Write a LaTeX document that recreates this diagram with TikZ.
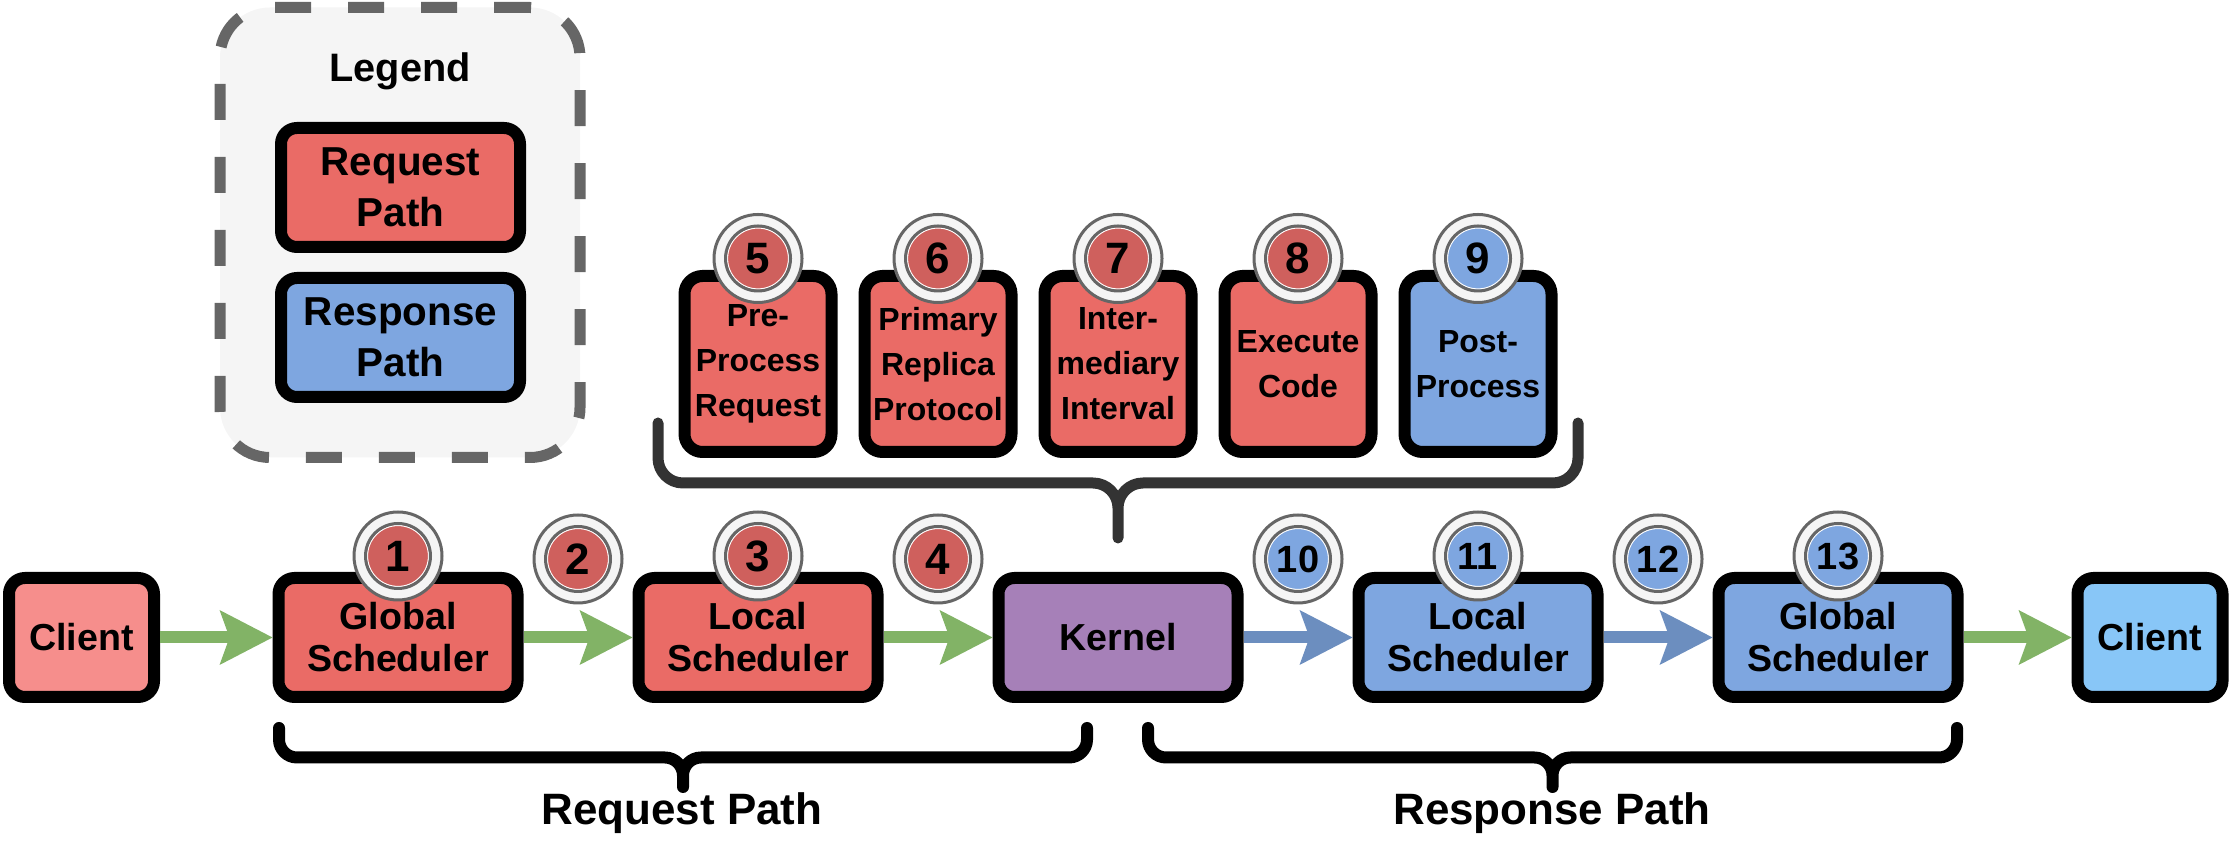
\documentclass[tikz,border=0pt]{standalone}
\usepackage{fontspec}
\setmainfont{Liberation Sans}
\usepackage{tikz}
\usetikzlibrary{arrows.meta}

\definecolor{reqred}{HTML}{EA6B66}
\definecolor{resblue}{HTML}{7EA6E0}
\definecolor{kernelpurple}{HTML}{A680B8}
\definecolor{clientred}{HTML}{F68E8C}
\definecolor{clientblue}{HTML}{88C6F7}
\definecolor{badgered}{HTML}{CF605D}
\definecolor{flowgreen}{HTML}{82B366}
\definecolor{flowblue}{HTML}{6C8EBF}
\definecolor{framefill}{HTML}{F5F5F5}
\definecolor{framegray}{HTML}{666666}
\definecolor{bracegray}{HTML}{333333}

\newcommand{\stagefont}{\bfseries\fontsize{10.7pt}{11.95pt}\selectfont}
\newcommand{\stepfont}{\bfseries\fontsize{9.1pt}{12.8pt}\selectfont}
\newcommand{\legfont}{\bfseries\fontsize{11.5pt}{14.5pt}\selectfont}
\newcommand{\legtitlefont}{\bfseries\fontsize{11.3pt}{13pt}\selectfont}
\newcommand{\numfont}{\bfseries\fontsize{12.5pt}{13pt}\selectfont}
\newcommand{\numsmallfont}{\bfseries\fontsize{10.8pt}{12pt}\selectfont}
\newcommand{\pathfont}{\bfseries\fontsize{12.5pt}{14pt}\selectfont}

\begin{document}
\begin{tikzpicture}[
    stage/.style={draw=black, line width=0.12cm, rounded corners=0.16cm, inner sep=0pt,
      minimum width=2.39cm, minimum height=1.19cm, align=center, font=\stagefont},
    stepbox/.style={stage, rounded corners=0.18cm, minimum width=1.47cm, minimum height=1.76cm, font=\stepfont},
    numring/.style={circle, fill=framefill, draw=framegray, line width=0.03cm, minimum size=0.88cm, inner sep=0pt},
    numdot/.style={circle, fill=#1, draw=framegray, line width=0.03cm, minimum size=0.65cm, inner sep=0pt,
      font=\numfont, path picture={\draw[white, line width=0.012cm]
        (path picture bounding box.center) circle [radius=0.305cm];}},
    flow/.style={line width=0.12cm, -{Stealth[length=0.53cm, width=0.55cm, inset=0.1cm, line width=0pt]}},
    brace/.style={line width=0.12cm, line cap=round, line join=round}]
  \useasboundingbox (0,0) rectangle (22.32,8.52);

  % legend
  \node[draw=framegray, fill=framefill, line width=0.11cm, dash pattern=on 0.36cm off 0.37cm,
    rounded corners=0.5cm, minimum width=3.60cm, minimum height=4.50cm, inner sep=0pt] (legend) at (4.00,6.195) {};
  \node[font=\legtitlefont, anchor=base] (legendtitle) at (4.00,7.70) {Legend};
  \node[stage, fill=reqred, font=\legfont] (legreq) at (4.005,6.645) {Request\\Path};
  \node[stage, fill=resblue, font=\legfont] (legres) at (4.005,5.145) {Response\\Path};

  % main row
  \node[stage, fill=clientred, minimum width=1.45cm] (clientA) at (0.815,2.145) {Client};
  \node[stage, fill=reqred] (globalA) at (3.98,2.145) {Global\\Scheduler};
  \node[stage, fill=reqred] (localA) at (7.58,2.145) {Local\\Scheduler};
  \node[stage, fill=kernelpurple] (kernel) at (11.18,2.145) {Kernel};
  \node[stage, fill=resblue] (localB) at (14.78,2.145) {Local\\Scheduler};
  \node[stage, fill=resblue] (globalB) at (18.38,2.145) {Global\\Scheduler};
  \node[stage, fill=clientblue, minimum width=1.45cm] (clientB) at (21.50,2.145) {Client};

  \draw[flow, flowgreen] (clientA) -- (globalA);
  \draw[flow, flowgreen] (globalA) -- (localA);
  \draw[flow, flowgreen] (localA) -- (kernel);
  \draw[flow, flowblue] (kernel) -- (localB);
  \draw[flow, flowblue] (localB) -- (globalB);
  \draw[flow, flowgreen] (globalB) -- (clientB);

  % kernel steps
  \node[stepbox, fill=reqred] (pre) at (7.58,4.88) {Pre-\\Process\\Request};
  \node[stepbox, fill=reqred] (primary) at (9.38,4.88) {Primary\\Replica\\Protocol};
  \node[stepbox, fill=reqred] (inter) at (11.18,4.88) {Inter-\\mediary\\Interval};
  \node[stepbox, fill=reqred] (exec) at (12.98,4.88) {Execute\\Code};
  \node[stepbox, fill=resblue] (post) at (14.78,4.88) {Post-\\Process};

  % numbered badges
  \foreach \n/\x/\y/\c in {1/3.98/2.96/badgered, 2/5.78/2.93/badgered, 3/7.58/2.96/badgered,
      4/9.38/2.93/badgered, 5/7.58/5.935/badgered, 6/9.38/5.935/badgered, 7/11.18/5.935/badgered,
      8/12.98/5.935/badgered, 9/14.78/5.935/resblue} {
    \node[numring] (ring\n) at (\x,\y) {};
    \node[numdot=\c] (num\n) at (ring\n) {\n};
  }
  \foreach \n/\x/\y in {10/12.98/2.93, 11/14.78/2.96, 12/16.58/2.93, 13/18.38/2.96} {
    \node[numring] (ring\n) at (\x,\y) {};
    \node[numdot=resblue, font=\numsmallfont] (num\n) at (ring\n) {\n};
  }

  % braces
  \draw[brace, bracegray, line width=0.11cm, rounded corners=0.25cm]
    (6.58,4.29) -- (6.58,3.69) -- (11.18,3.69) -- (11.18,3.14)
    (15.78,4.29) -- (15.78,3.69) -- (11.18,3.69) -- (11.18,3.14);
  \draw[brace, rounded corners=0.18cm]
    (2.79,1.24) -- (2.79,0.945) -- (6.83,0.945) -- (6.83,0.65)
    (10.87,1.24) -- (10.87,0.945) -- (6.83,0.945) -- (6.83,0.65);
  \draw[brace, rounded corners=0.18cm]
    (11.48,1.24) -- (11.48,0.945) -- (15.525,0.945) -- (15.525,0.65)
    (19.57,1.24) -- (19.57,0.945) -- (15.525,0.945) -- (15.525,0.65);
  \node[font=\pathfont, anchor=base] (reqlabel) at (6.82,0.27) {Request Path};
  \node[font=\pathfont, anchor=base] (reslabel) at (15.52,0.27) {Response Path};
\end{tikzpicture}
\end{document}
